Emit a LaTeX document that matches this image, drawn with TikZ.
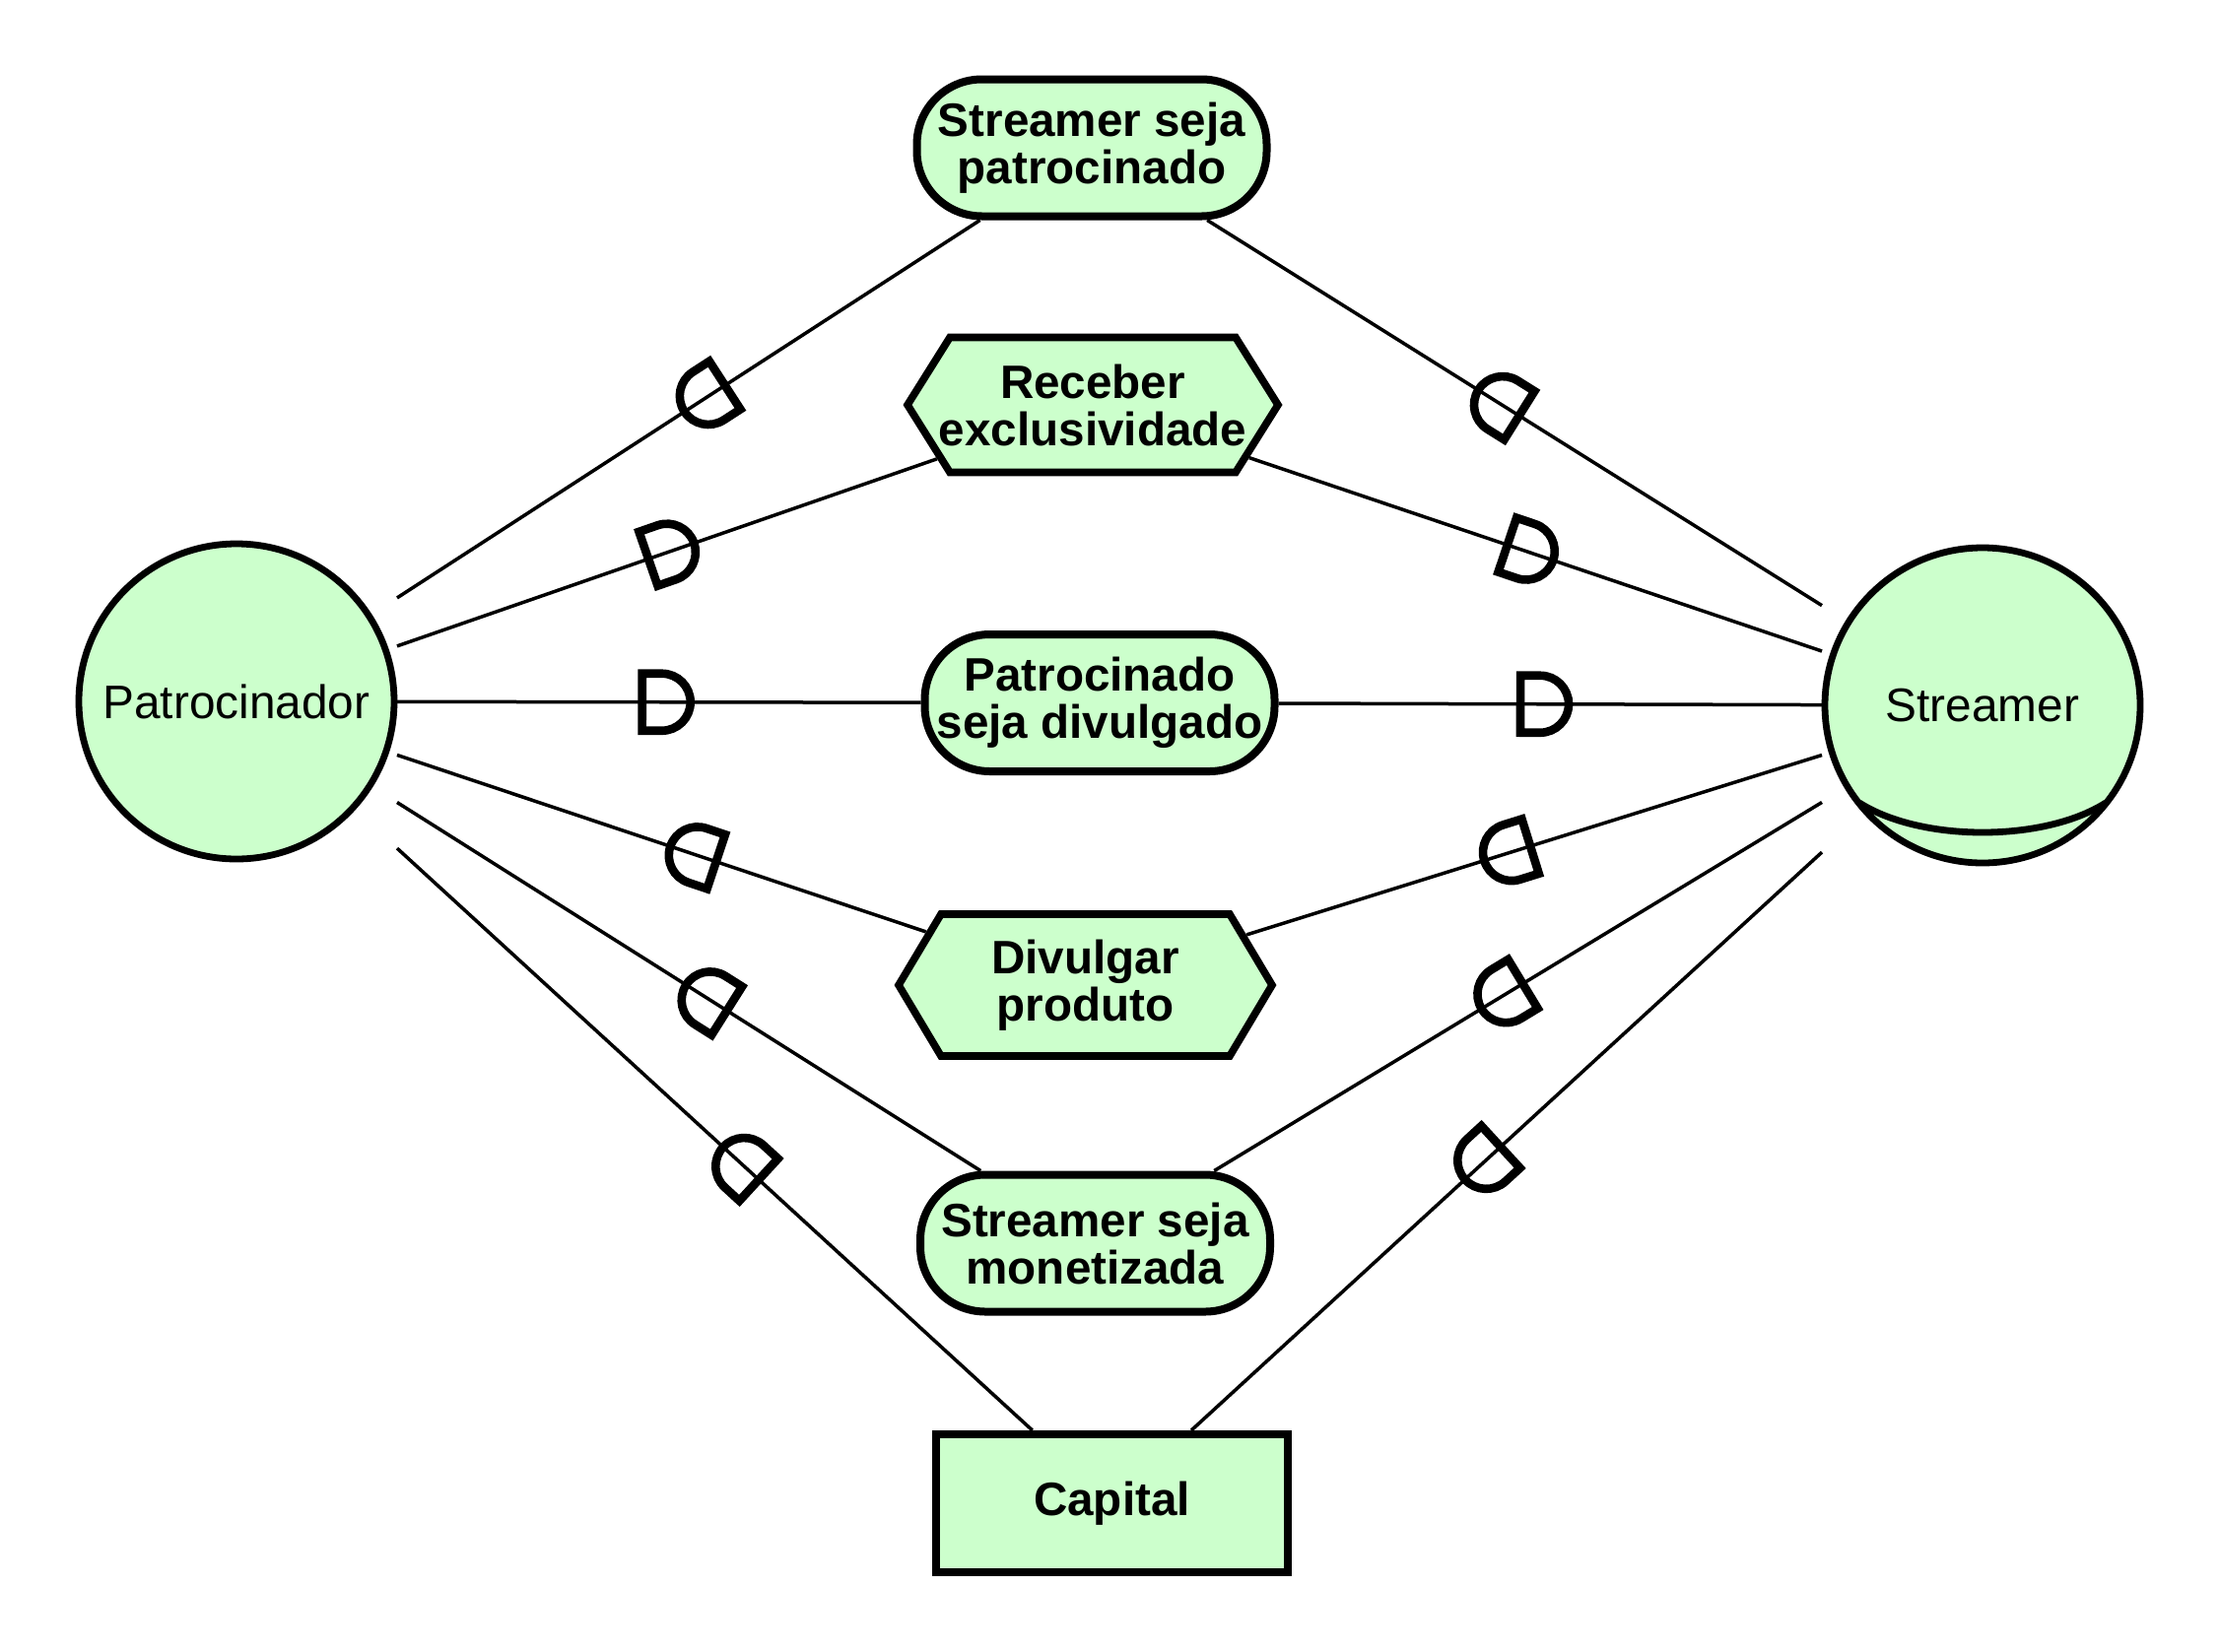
\documentclass[tikz,border=0pt]{standalone}
\usepackage{fontspec}
\setmainfont{Liberation Sans}
\usetikzlibrary{backgrounds,calc}
\definecolor{nodefill}{HTML}{CCFFCC}
\tikzset{
  boldtext/.style={font=\fontsize{23.8pt}{24pt}\selectfont\bfseries, align=center},
  goalnode/.style={boldtext, draw, fill=nodefill, line width=4pt, rounded corners=33pt,
    minimum width=177.5pt, minimum height=69.5pt, inner sep=0pt},
  resnode/.style={boldtext, draw, fill=nodefill, line width=4pt,
    minimum width=178.5pt, minimum height=70pt, inner sep=0pt},
  hextext/.style={boldtext, inner sep=0pt},
  hexborder/.style={draw, fill=nodefill, line width=3.8pt},
  actorbox/.style={rectangle, minimum size=163pt, inner sep=0pt, outer sep=0pt,
    font=\fontsize{23.9pt}{24pt}\selectfont},
  actorborder/.style={draw, fill=nodefill, line width=3.4pt},
  roleline/.style={draw, line width=3.4pt},
  link/.style={draw, line width=1.75pt},
  dsym/.pic={\draw[line width=4.3pt] (0,-29) -- (0,29) -- (20,29)
     arc[start angle=90,end angle=-90,radius=29] -- cycle;}
}
% #1 from node, #2 to node, #3 fraction, #4 extra rotation
\newcommand\depmark[4]{%
  \path let \p1=($(#2)-(#1)$), \n1={atan2(\y1,\x1)+#4} in
    pic[rotate=\n1] at ($(#1)!#3!(#2)$) {dsym};}
% #1 centre, #2 half width, #3 half height, #4 inset
\newcommand\hexpath[4]{%
  \path[hexborder] (#1) ++(-#2,0) -- ++(#4,-#3) -- ++({2*#2-2*#4},0)
    -- ++(#4,#3) -- ++(-#4,#3) -- ++({-2*#2+2*#4},0) -- cycle;}
\begin{document}
\begin{tikzpicture}[x=0.5pt,y=-0.5pt]
\useasboundingbox (0,0) rectangle (2252,1676);

% actors
\node[actorbox] (pat) at (240,712) {Patrocinador};
\node[actorbox] (str) at (2012,716) {Streamer};

% dependums
\node[goalnode] (g1) at (1108,150) {Streamer seja\\patrocinado};
\node[hextext] (h1) at (1109,411) {Receber\\exclusividade};
\node[goalnode] (g2) at (1116,713.5) {Patrocinado\\seja divulgado};
\node[hextext] (h2) at (1101.5,1000) {Divulgar\\produto};
\node[goalnode] (g3) at (1111.5,1262) {Streamer seja\\monetizada};
\node[resnode] (cap) at (1128.5,1526) {Capital};

\begin{scope}[on background layer]
  \path[actorborder] (pat.center) circle[radius=160];
  \path[actorborder] (str.center) circle[radius=160];
  \path[roleline] ($(str)+(-125,99)$) .. controls ($(str)+(-62,139)$) and ($(str)+(62,139)$) .. ($(str)+(125,99)$);
  \hexpath{h1}{188}{68.5}{43}
  \hexpath{h2}{189.5}{72}{43}
\end{scope}

% connectors
\draw[link] (pat) -- (g1);
\draw[link, shorten >=83.7pt] (pat) -- (h1.center);
\draw[link] (pat) -- (g2);
\draw[link, shorten >=85.3pt] (pat) -- (h2.center);
\draw[link] (pat) -- (g3);
\draw[link] (pat) -- (cap);

\draw[link] (g1) -- (str);
\draw[link, shorten <=83.8pt] (h1.center) -- (str);
\draw[link] (g2) -- (str);
\draw[link, shorten <=85.7pt] (h2.center) -- (str);
\draw[link] (g3) -- (str);
\draw[link] (cap) -- (str);

% dependency marks
\depmark{pat}{g1}{0.571}{180}
\depmark{pat}{h1}{0.481}{0}
\depmark{pat}{g2}{0.470}{0}
\depmark{pat}{h2}{0.565}{180}
\depmark{pat}{g3}{0.571}{180}
\depmark{pat}{cap}{0.5965}{180}

\depmark{g1}{str}{0.480}{180}
\depmark{h1}{str}{0.466}{0}
\depmark{g2}{str}{0.4766}{0}
\depmark{h2}{str}{0.496}{180}
\depmark{g3}{str}{0.482}{180}
\depmark{cap}{str}{0.4465}{180}
\end{tikzpicture}
\end{document}
